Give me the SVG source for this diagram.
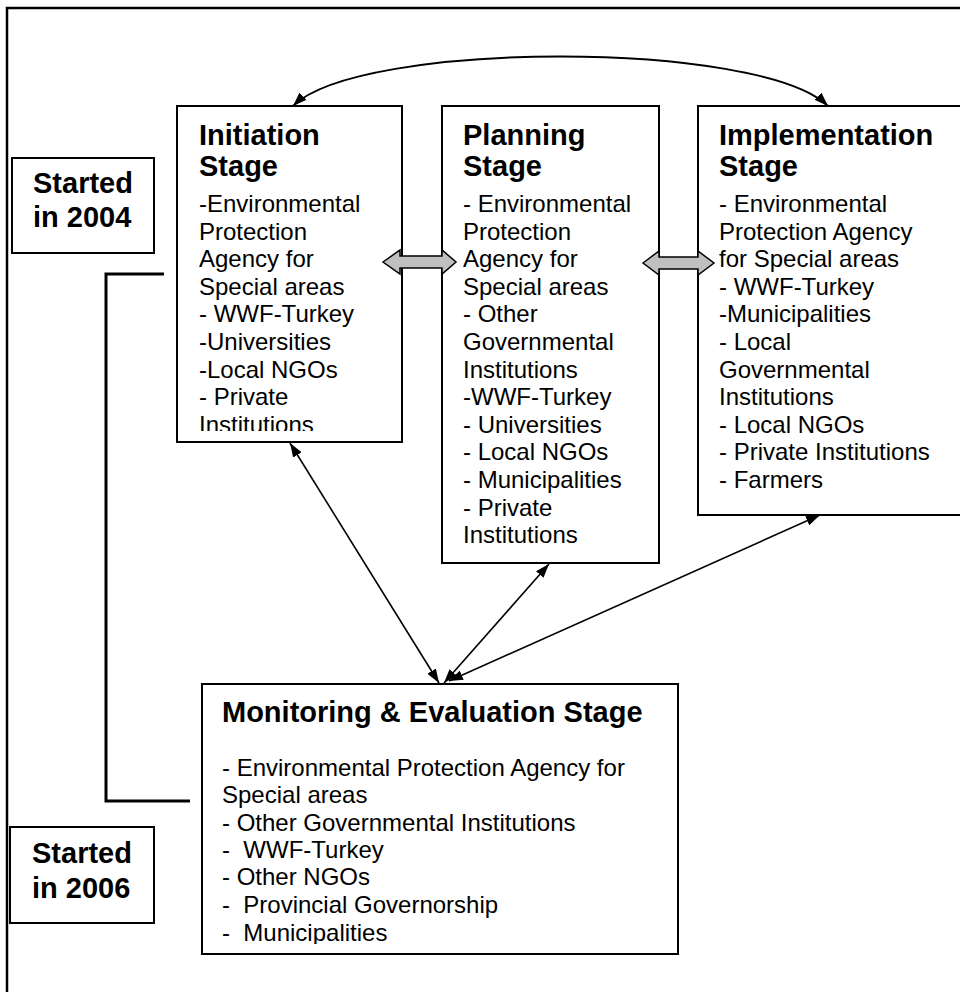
<svg xmlns="http://www.w3.org/2000/svg" width="960" height="992" viewBox="0 0 960 992">
  <style>
    .box { fill: #ffffff; stroke: #000000; stroke-width: 2; }
    .title { font-family: "Liberation Sans", Arial, sans-serif; font-size: 29px; font-weight: bold; fill: #000000; }
    .body { font-family: "Liberation Sans", Arial, sans-serif; font-size: 24px; fill: #000000; white-space: pre; }
    .link { fill: none; stroke: #000000; stroke-width: 1.6; marker-start: url(#head); marker-end: url(#head); }
    .arc { fill: none; stroke: #000000; stroke-width: 2; marker-start: url(#head); marker-end: url(#head); }
    .block { fill: #c0c0c0; stroke: #000000; stroke-width: 1.5; stroke-linejoin: miter; }
    .bracket { fill: none; stroke: #000000; stroke-width: 3; }
  </style>
  <defs>
    <marker id="head" viewBox="0 0 14 10" refX="14" refY="5" markerWidth="14" markerHeight="10" markerUnits="userSpaceOnUse" orient="auto-start-reverse">
      <path d="M0,0 L14,5 L0,10 z" fill="#000000"/>
    </marker>
    <clipPath id="clip-initiation">
      <rect x="177" y="106" width="225" height="325"/>
    </clipPath>
    <clipPath id="clip-monitoring">
      <rect x="202" y="684" width="476" height="260"/>
    </clipPath>
  </defs>

  <rect x="0" y="0" width="960" height="992" fill="#ffffff"/>

  <!-- outer frame -->
  <path d="M7,992 V8 H962" fill="none" stroke="#000000" stroke-width="2.5"/>

  <!-- bracket joining the two start dates -->
  <path class="bracket" d="M164,274 H106 V801 H190"/>

  <g id="started-2004">
    <rect class="box" x="12" y="158" width="142" height="95"/>
    <text class="title" x="33" y="193">Started</text>
    <text class="title" x="33" y="227">in 2004</text>
  </g>

  <g id="started-2006">
    <rect class="box" x="10" y="827" width="144" height="96"/>
    <text class="title" x="32" y="863">Started</text>
    <text class="title" x="32" y="898">in 2006</text>
  </g>

  <g id="initiation">
    <rect class="box" x="177" y="106" width="225" height="336"/>
    <text class="title" x="199" y="145">Initiation</text>
    <text class="title" x="199" y="176">Stage</text>
    <g clip-path="url(#clip-initiation)">
      <text class="body" x="199" y="212">-Environmental</text>
      <text class="body" x="199" y="239.6">Protection</text>
      <text class="body" x="199" y="267.2">Agency for</text>
      <text class="body" x="199" y="294.8">Special areas</text>
      <text class="body" x="199" y="322.4">- WWF-Turkey</text>
      <text class="body" x="199" y="350">-Universities</text>
      <text class="body" x="199" y="377.6">-Local NGOs</text>
      <text class="body" x="199" y="405.2">- Private</text>
      <text class="body" x="199" y="432.8">Institutions</text>
    </g>
  </g>

  <g id="planning">
    <rect class="box" x="442" y="106" width="217" height="457"/>
    <text class="title" x="463" y="145">Planning</text>
    <text class="title" x="463" y="176">Stage</text>
    <text class="body" x="463" y="212">- Environmental</text>
    <text class="body" x="463" y="239.6">Protection</text>
    <text class="body" x="463" y="267.2">Agency for</text>
    <text class="body" x="463" y="294.8">Special areas</text>
    <text class="body" x="463" y="322.4">- Other</text>
    <text class="body" x="463" y="350">Governmental</text>
    <text class="body" x="463" y="377.6">Institutions</text>
    <text class="body" x="463" y="405.2">-WWF-Turkey</text>
    <text class="body" x="463" y="432.8">- Universities</text>
    <text class="body" x="463" y="460.4">- Local NGOs</text>
    <text class="body" x="463" y="488">- Municipalities</text>
    <text class="body" x="463" y="515.6">- Private</text>
    <text class="body" x="463" y="543.2">Institutions</text>
  </g>

  <g id="implementation">
    <rect class="box" x="698" y="106" width="270" height="409"/>
    <text class="title" x="719" y="145">Implementation</text>
    <text class="title" x="719" y="176">Stage</text>
    <text class="body" x="719" y="212">- Environmental</text>
    <text class="body" x="719" y="239.6">Protection Agency</text>
    <text class="body" x="719" y="267.2">for Special areas</text>
    <text class="body" x="719" y="294.8">- WWF-Turkey</text>
    <text class="body" x="719" y="322.4">-Municipalities</text>
    <text class="body" x="719" y="350">- Local</text>
    <text class="body" x="719" y="377.6">Governmental</text>
    <text class="body" x="719" y="405.2">Institutions</text>
    <text class="body" x="719" y="432.8">- Local NGOs</text>
    <text class="body" x="719" y="460.4">- Private Institutions</text>
    <text class="body" x="719" y="488">- Farmers</text>
  </g>

  <g id="monitoring">
    <rect class="box" x="202" y="684" width="476" height="270"/>
    <text class="title" x="222" y="722">Monitoring &amp; Evaluation Stage</text>
    <g clip-path="url(#clip-monitoring)">
      <text class="body" x="222" y="776">- Environmental Protection Agency for</text>
      <text class="body" x="222" y="803">Special areas</text>
      <text class="body" x="222" y="831">- Other Governmental Institutions</text>
      <text class="body" x="222" y="858">-  WWF-Turkey</text>
      <text class="body" x="222" y="885">- Other NGOs</text>
      <text class="body" x="222" y="913">-  Provincial Governorship</text>
      <text class="body" x="222" y="940.5">-  Municipalities</text>
    </g>
  </g>

  <g id="connectors">
    <!-- curved link between initiation and implementation -->
    <path class="arc" d="M293,106 C360,40 760,40 828,106"/>
    <!-- grey block arrows between neighbouring stages -->
    <polygon class="block" points="383,262 400,250 400,256 442,256 442,250 456,262 442,274 442,268 400,268 400,274"/>
    <polygon class="block" points="643,263 659,251 659,257 698,257 698,251 714,263 698,275 698,269 659,269 659,275"/>
    <!-- links from each stage down to monitoring -->
    <line class="link" x1="290" y1="443" x2="439" y2="683"/>
    <line class="link" x1="549" y1="564" x2="444" y2="683"/>
    <line class="link" x1="820" y1="515" x2="449" y2="681"/>
  </g>
</svg>
